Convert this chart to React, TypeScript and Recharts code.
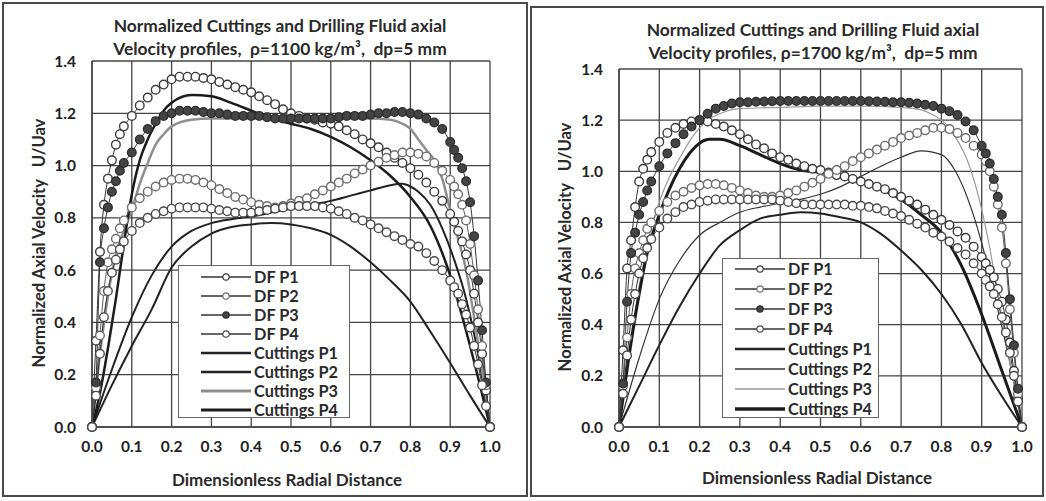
import React from 'react';
import { LineChart, Line, XAxis, YAxis, CartesianGrid } from 'recharts';

// ---------- axes ----------
const X_TICKS = [0, 0.1, 0.2, 0.3, 0.4, 0.5, 0.6, 0.7, 0.8, 0.9, 1.0];
const Y_TICKS = [0, 0.2, 0.4, 0.6, 0.8, 1.0, 1.2, 1.4];

// ---------- drilling-fluid radial stations ----------
const DF_X = [0, 0.01, 0.02, 0.03, 0.04, 0.05, 0.06, 0.07, 0.08, 0.1, 0.12, 0.14, 0.16, 0.18, 0.2, 0.22, 0.24, 0.26, 0.28, 0.3,
  0.32, 0.34, 0.36, 0.38, 0.4, 0.42, 0.44, 0.46, 0.48, 0.5, 0.52, 0.54, 0.56, 0.58, 0.6, 0.62, 0.64, 0.66, 0.68, 0.7,
  0.72, 0.74, 0.76, 0.78, 0.8, 0.82, 0.84, 0.86, 0.88, 0.9, 0.91, 0.92, 0.93, 0.94, 0.95, 0.96, 0.97, 0.98, 0.99, 1.0];

// ---------- left panel (rho = 1100) ----------
const L_DF_P1 = [0, .33, .67, .85, .95, 1.02, 1.08, 1.12, 1.15, 1.19, 1.23, 1.26, 1.29, 1.31, 1.33, 1.34, 1.34, 1.34, 1.335, 1.33,
  1.32, 1.31, 1.30, 1.29, 1.28, 1.265, 1.25, 1.235, 1.215, 1.20, 1.19, 1.18, 1.175, 1.165, 1.16, 1.15, 1.135, 1.12, 1.10, 1.085,
  1.07, 1.05, 1.03, 1.01, .99, .965, .935, .90, .865, .815, .785, .75, .71, .66, .60, .51, .40, .28, .14, 0];
const L_DF_P2 = [0, .15, .35, .52, .63, .68, .72, .76, .79, .84, .875, .90, .92, .935, .945, .95, .95, .945, .935, .925,
  .91, .895, .88, .87, .86, .85, .845, .84, .845, .855, .865, .875, .89, .905, .92, .935, .95, .97, .985, 1.0,
  1.015, 1.03, 1.04, 1.05, 1.05, 1.045, 1.035, 1.01, .98, .945, .92, .89, .85, .79, .70, .58, .45, .31, .16, 0];
const L_DF_P3 = [0, .17, .63, .76, .84, .90, .94, .98, 1.01, 1.05, 1.10, 1.14, 1.17, 1.19, 1.20, 1.21, 1.21, 1.21, 1.205, 1.20,
  1.20, 1.195, 1.19, 1.19, 1.19, 1.19, 1.185, 1.18, 1.18, 1.18, 1.18, 1.18, 1.18, 1.18, 1.18, 1.185, 1.19, 1.19, 1.19, 1.195,
  1.20, 1.20, 1.205, 1.205, 1.20, 1.195, 1.18, 1.165, 1.14, 1.09, 1.06, 1.03, .99, .94, .86, .73, .56, .37, .17, 0];
const L_DF_P4 = [0, .12, .28, .42, .52, .59, .64, .68, .71, .75, .78, .80, .815, .825, .835, .84, .84, .84, .84, .835,
  .83, .825, .82, .82, .82, .825, .83, .835, .84, .845, .845, .845, .845, .84, .835, .825, .815, .80, .79, .775,
  .76, .745, .73, .715, .70, .69, .665, .635, .60, .56, .535, .51, .47, .43, .38, .31, .24, .16, .08, 0];

const L_CUT_P1_X = [0, .05, .10, .15, .20, .25, .30, .35, .40, .45, .50, .55, .60, .65, .70, .75, .80, .85, .90, .95, 1.0];
const L_CUT_P1_Y = [0, .16, .31, .45, .61, .69, .74, .765, .775, .78, .775, .76, .735, .69, .63, .56, .48, .365, .245, .12, 0];
const L_CUT_P2_X = [0, .05, .10, .15, .20, .25, .30, .35, .40, .45, .50, .55, .60, .65, .70, .75, .78, .80, .82, .85, .88, .91, .94, .97, 1.0];
const L_CUT_P2_Y = [0, .22, .42, .58, .69, .75, .78, .795, .805, .82, .835, .85, .865, .885, .905, .925, .93, .92, .90, .85, .76, .64, .49, .28, 0];
const L_CUT_P3_X = [0, .02, .04, .06, .08, .10, .12, .14, .16, .18, .20, .25, .30, .40, .50, .60, .70, .75, .78, .80, .82, .84, .86, .88, .90, .92, .94, .96, .98, 1.0];
const L_CUT_P3_Y = [0, .28, .50, .66, .75, .83, .93, 1.01, 1.08, 1.12, 1.15, 1.175, 1.18, 1.18, 1.18, 1.18, 1.18, 1.175, 1.16, 1.14, 1.10, 1.06, 1.02, .95, .83, .72, .60, .42, .22, 0];
const L_CUT_P4_X = [0, .02, .04, .06, .08, .10, .12, .14, .16, .18, .20, .25, .30, .35, .40, .45, .50, .55, .60, .65, .70, .75, .80, .85, .90, .95, 1.0];
const L_CUT_P4_Y = [0, .13, .30, .49, .70, .89, 1.02, 1.10, 1.16, 1.21, 1.24, 1.27, 1.265, 1.24, 1.21, 1.18, 1.16, 1.14, 1.11, 1.07, 1.02, .96, .88, .77, .58, .31, 0];

// ---------- right panel (rho = 1700) ----------
const R_DF_P1 = [0, .30, .62, .73, .86, .96, 1.01, 1.045, 1.075, 1.115, 1.15, 1.17, 1.185, 1.195, 1.20, 1.195, 1.185, 1.175, 1.16, 1.145,
  1.125, 1.105, 1.09, 1.07, 1.055, 1.045, 1.03, 1.02, 1.01, 1.005, .995, .985, .98, .97, .96, .95, .94, .93, .915, .90,
  .885, .87, .85, .83, .81, .79, .765, .74, .705, .665, .64, .615, .585, .54, .49, .42, .33, .22, .11, 0];
const R_DF_P2 = [0, .16, .35, .52, .62, .68, .73, .775, .80, .845, .88, .905, .92, .935, .945, .95, .95, .945, .935, .925,
  .915, .905, .90, .90, .905, .915, .925, .94, .955, .97, .99, 1.005, 1.02, 1.04, 1.055, 1.07, 1.085, 1.10, 1.115, 1.13,
  1.14, 1.15, 1.16, 1.17, 1.17, 1.165, 1.15, 1.13, 1.10, 1.065, 1.04, 1.0, .94, .87, .78, .64, .46, .29, .13, 0];
const R_DF_P3 = [0, .17, .49, .68, .76, .83, .88, .925, .96, 1.02, 1.07, 1.11, 1.145, 1.175, 1.20, 1.225, 1.245, 1.255, 1.265, 1.27,
  1.27, 1.272, 1.273, 1.274, 1.275, 1.275, 1.275, 1.275, 1.275, 1.275, 1.275, 1.275, 1.275, 1.275, 1.275, 1.274, 1.273, 1.272, 1.27, 1.27,
  1.268, 1.265, 1.26, 1.255, 1.245, 1.235, 1.22, 1.195, 1.16, 1.10, 1.07, 1.03, .97, .90, .83, .68, .50, .32, .15, 0];
const R_DF_P4 = [0, .13, .28, .42, .52, .60, .66, .70, .735, .78, .815, .84, .86, .87, .88, .885, .89, .89, .89, .89,
  .89, .89, .89, .89, .885, .88, .875, .87, .87, .87, .87, .87, .87, .865, .865, .86, .855, .845, .835, .825,
  .81, .795, .78, .76, .745, .725, .70, .675, .64, .60, .575, .55, .52, .48, .43, .37, .29, .20, .10, 0];

const R_CUT_P1_X = [0, .05, .10, .15, .20, .25, .30, .35, .40, .45, .50, .55, .60, .65, .70, .75, .80, .85, .90, .95, 1.0];
const R_CUT_P1_Y = [0, .16, .32, .47, .60, .71, .77, .815, .83, .84, .835, .82, .80, .755, .69, .615, .52, .40, .25, .12, 0];
const R_CUT_P2_X = [0, .05, .10, .15, .20, .25, .30, .35, .40, .45, .50, .55, .60, .65, .70, .75, .80, .835, .875, .91, .94, .97, 1.0];
const R_CUT_P2_Y = [0, .27, .50, .65, .75, .80, .84, .86, .875, .89, .91, .94, .98, 1.02, 1.055, 1.08, 1.065, 1.0, .85, .66, .46, .25, 0];
const R_CUT_P3_X = [0, .02, .05, .08, .10, .12, .15, .18, .20, .22, .25, .30, .40, .50, .60, .70, .75, .78, .80, .82, .84, .86, .88, .90, .92, .94, .96, .98, 1.0];
const R_CUT_P3_Y = [0, .25, .55, .78, .88, .96, 1.05, 1.13, 1.17, 1.20, 1.225, 1.245, 1.25, 1.255, 1.255, 1.25, 1.24, 1.22, 1.20, 1.17, 1.12, 1.06, .97, .85, .70, .52, .34, .17, 0];
const R_CUT_P4_X = [0, .03, .05, .07, .10, .125, .15, .175, .20, .225, .25, .30, .35, .40, .45, .50, .55, .60, .65, .70, .75, .80, .85, .90, .95, 1.0];
const R_CUT_P4_Y = [0, .33, .52, .68, .83, .93, 1.01, 1.07, 1.11, 1.125, 1.125, 1.10, 1.065, 1.03, 1.005, .995, .98, .96, .93, .89, .83, .76, .63, .44, .22, 0];

const LEGEND_NAMES = ['DF P1', 'DF P2', 'DF P3', 'DF P4', 'Cuttings P1', 'Cuttings P2', 'Cuttings P3', 'Cuttings P4'];

// ---------- helpers ----------
type Pt = { x: number; y: number };
const zip = (xs: number[], ys: number[]): Pt[] => xs.map((x, i) => ({ x, y: ys[i] }));

type Style = { stroke: string; width: number; dot?: { fill: string; stroke: string } };

const DF_STYLES: Style[] = [
  { stroke: '#333333', width: 1, dot: { fill: '#ffffff', stroke: '#3c3c3c' } },
  { stroke: '#5c5c5c', width: 1, dot: { fill: '#ffffff', stroke: '#6e6e6e' } },
  { stroke: '#333333', width: 1, dot: { fill: '#444444', stroke: '#2e2e2e' } },
  { stroke: '#333333', width: 1, dot: { fill: '#ffffff', stroke: '#4a4a4a' } },
];
const CUT_STYLES_L: Style[] = [
  { stroke: '#222', width: 2 },
  { stroke: '#222', width: 2 },
  { stroke: '#8f8f8f', width: 2.5 },
  { stroke: '#1c1c1c', width: 2.5 },
];
const CUT_STYLES_R: Style[] = [
  { stroke: '#222', width: 2 },
  { stroke: '#333', width: 1.2 },
  { stroke: '#9a9a9a', width: 1.2 },
  { stroke: '#1c1c1c', width: 3 },
];

const FONT = 'Lato, "Open Sans", sans-serif';
const tickStyle = { fontFamily: FONT, fontWeight: 700, fontSize: 15.5, fill: '#222' };

type PanelProps = {
  left: number; width: number; frameTop: number; frameLeft: number; frameW: number;
  plotL: number; plotR: number; plotT: number; plotB: number;
  title: [string, string]; titleX: number; titleY: number;
  yLabelX: number; yLabelY: number; xLabelX: number; xLabelY: number;
  df: number[][]; cuts: Pt[][]; cutStyles: Style[];
  legend: { x: number; y: number; w: number; h: number; rowH: number; lineX: number; lineW: number; textX: number; firstRow: number };
};

function Panel(p: PanelProps) {
  const H = 501;
  const yAxisW = 50;
  const xAxisH = 30;
  const margin = { top: p.plotT, right: p.width - p.plotR, bottom: H - p.plotB - xAxisH, left: p.plotL - yAxisW };
  const dfData = p.df.map((ys) => zip(DF_X, ys));
  return (
    <div style={{ position: 'absolute', left: p.left, top: 0, width: p.width, height: H }}>
      <div style={{ position: 'absolute', left: p.frameLeft, top: p.frameTop, width: p.frameW, height: H - p.frameTop - 4, border: '2px solid #4a4a4a', boxSizing: 'border-box', background: '#fff' }} />
      <div style={{ position: 'absolute', left: 0, top: 0 }}>
        <LineChart width={p.width} height={H} margin={margin}>
          <CartesianGrid stroke="#444" strokeWidth={1.3} horizontalValues={Y_TICKS} verticalValues={X_TICKS} />
          <XAxis dataKey="x" type="number" domain={[0, 1]} ticks={X_TICKS} allowDuplicatedCategory={false}
            tickFormatter={(v: number) => v.toFixed(1)} tick={tickStyle} tickSize={6} tickMargin={8} tickLine={false}
            axisLine={{ stroke: '#444', strokeWidth: 1.5 }} height={xAxisH} interval={0} />
          <YAxis dataKey="y" type="number" domain={[0, 1.4]} ticks={Y_TICKS}
            tickFormatter={(v: number) => v.toFixed(1)} tick={tickStyle} tickSize={6} tickMargin={10} tickLine={false}
            axisLine={{ stroke: '#444', strokeWidth: 1.5 }} width={yAxisW} interval={0} />
          {p.cuts.map((d, i) => (
            <Line key={'c' + i} data={d} dataKey="y" type="monotone" stroke={p.cutStyles[i].stroke}
              strokeWidth={p.cutStyles[i].width} dot={false} isAnimationActive={false} />
          ))}
          {dfData.map((d, i) => (
            <Line key={'d' + i} data={d} dataKey="y" type="monotone" stroke={DF_STYLES[i].stroke}
              strokeWidth={DF_STYLES[i].width}
              dot={{ r: 4.3, fill: DF_STYLES[i].dot!.fill, stroke: DF_STYLES[i].dot!.stroke, strokeWidth: 1.4 }}
              isAnimationActive={false} />
          ))}
        </LineChart>
      </div>
      {/* title */}
      <div style={{ position: 'absolute', left: p.titleX - 260, top: p.titleY, width: 520, textAlign: 'center', fontFamily: FONT, fontWeight: 700, fontSize: 17.4, lineHeight: '23px', color: '#2a2a2a', whiteSpace: 'pre' }}>
        <div>{p.title[0]}</div>
        <div>{p.title[1]}</div>
      </div>
      {/* y label */}
      <div style={{ position: 'absolute', left: p.yLabelX - 200, top: p.yLabelY - 11, width: 400, height: 22, lineHeight: '22px', textAlign: 'center', transform: 'rotate(-90deg)', fontFamily: FONT, fontWeight: 700, fontSize: 16.6, color: '#2a2a2a', whiteSpace: 'pre' }}>
        {'Normalized Axial Velocity   U/Uav'}
      </div>
      {/* x label */}
      <div style={{ position: 'absolute', left: p.xLabelX - 200, top: p.xLabelY - 11, width: 400, height: 22, lineHeight: '22px', textAlign: 'center', fontFamily: FONT, fontWeight: 700, fontSize: 17, color: '#2a2a2a' }}>
        Dimensionless Radial Distance
      </div>
      {/* legend */}
      <div style={{ position: 'absolute', left: p.legend.x, top: p.legend.y, width: p.legend.w, height: p.legend.h, background: '#fff', border: '1px solid #666', boxSizing: 'border-box' }}>
        {LEGEND_NAMES.map((name, i) => {
          const cy = p.legend.firstRow + i * p.legend.rowH;
          const isDf = i < 4;
          const st = isDf ? DF_STYLES[i] : p.cutStyles[i - 4];
          return (
            <div key={name}>
              <svg style={{ position: 'absolute', left: p.legend.lineX, top: cy - 6 }} width={p.legend.lineW} height={12}>
                <line x1={0} y1={6} x2={p.legend.lineW} y2={6} stroke={isDf ? '#333' : st.stroke} strokeWidth={isDf ? 1.6 : st.width + 0.4} />
                {isDf && <circle cx={p.legend.lineW / 2} cy={6} r={3.2} fill={st.dot!.fill} stroke={st.dot!.stroke} strokeWidth={1.2} />}
              </svg>
              <div style={{ position: 'absolute', left: p.legend.textX, top: cy - 11, height: 22, lineHeight: '22px', fontFamily: FONT, fontWeight: 700, fontSize: 16.3, color: '#2a2a2a', whiteSpace: 'nowrap' }}>
                {name}
              </div>
            </div>
          );
        })}
      </div>
    </div>
  );
}

export default function App() {
  const leftCuts = [zip(L_CUT_P1_X, L_CUT_P1_Y), zip(L_CUT_P2_X, L_CUT_P2_Y), zip(L_CUT_P3_X, L_CUT_P3_Y), zip(L_CUT_P4_X, L_CUT_P4_Y)];
  const rightCuts = [zip(R_CUT_P1_X, R_CUT_P1_Y), zip(R_CUT_P2_X, R_CUT_P2_Y), zip(R_CUT_P3_X, R_CUT_P3_Y), zip(R_CUT_P4_X, R_CUT_P4_Y)];
  return (
    <div style={{ position: 'absolute', left: 0, top: 0, width: 1046, height: 501, background: '#fff', overflow: 'hidden' }}>
      <Panel left={0} width={528} frameTop={2} frameLeft={2} frameW={526}
        plotL={92} plotR={490} plotT={61} plotB={427}
        title={['Normalized Cuttings and Drilling Fluid axial', 'Velocity profiles,  \u03c1=1100 kg/m\u00b3,  dp=5 mm']}
        titleX={280} titleY={14}
        yLabelX={39} yLabelY={243} xLabelX={287} xLabelY={480}
        df={[L_DF_P1, L_DF_P2, L_DF_P3, L_DF_P4]} cuts={leftCuts} cutStyles={CUT_STYLES_L}
        legend={{ x: 178, y: 265, w: 172, h: 153, rowH: 19, lineX: 22, lineW: 50, textX: 75, firstRow: 11 }} />
      <Panel left={528} width={518} frameTop={6} frameLeft={2} frameW={514}
        plotL={91} plotR={494} plotT={69} plotB={427}
        title={['Normalized Cuttings and Drilling Fluid axial', 'Velocity profiles, \u03c1=1700 kg/m\u00b3,  dp=5 mm']}
        titleX={285} titleY={18}
        yLabelX={37} yLabelY={247} xLabelX={289} xLabelY={478}
        df={[R_DF_P1, R_DF_P2, R_DF_P3, R_DF_P4]} cuts={rightCuts} cutStyles={CUT_STYLES_R}
        legend={{ x: 194, y: 258, w: 157, h: 160, rowH: 20, lineX: 12, lineW: 50, textX: 65, firstRow: 10 }} />
    </div>
  );
}
